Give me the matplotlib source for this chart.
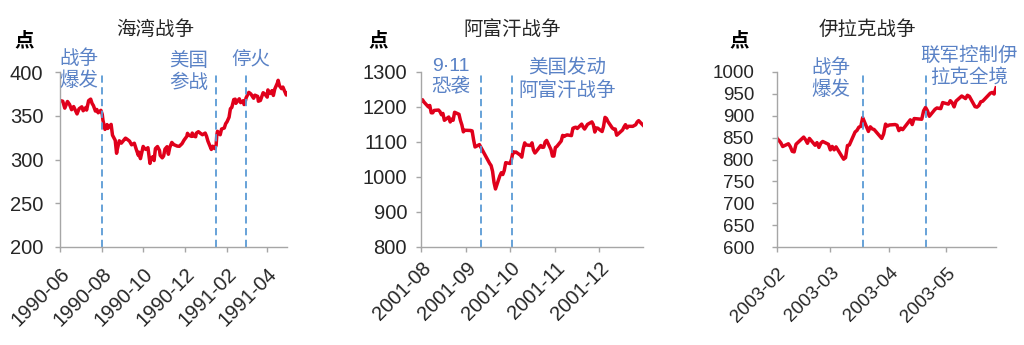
import matplotlib
matplotlib.use("Agg")
import matplotlib.pyplot as plt
import matplotlib.dates as mdates
import pandas as pd

plt.rcParams['font.family'] = ['Liberation Sans', 'Noto Sans CJK SC', 'DejaVu Sans']

# 海湾战争 (1990-06 ~ 1991-04)
gulf_dates = [
    "1990-06-01", "1990-06-05", "1990-06-08", "1990-06-12", "1990-06-15", "1990-06-18",
    "1990-06-21", "1990-06-26", "1990-06-29", "1990-07-03", "1990-07-05", "1990-07-09",
    "1990-07-10", "1990-07-13", "1990-07-16", "1990-07-18", "1990-07-20", "1990-07-23",
    "1990-07-25", "1990-07-27", "1990-07-31", "1990-08-02", "1990-08-03", "1990-08-06",
    "1990-08-09", "1990-08-10", "1990-08-15", "1990-08-17", "1990-08-21", "1990-08-23",
    "1990-08-24", "1990-08-27", "1990-08-30", "1990-09-05", "1990-09-07", "1990-09-11",
    "1990-09-14", "1990-09-18", "1990-09-21", "1990-09-24", "1990-09-25", "1990-09-27",
    "1990-10-01", "1990-10-03", "1990-10-05", "1990-10-08", "1990-10-11", "1990-10-12",
    "1990-10-15", "1990-10-17", "1990-10-19", "1990-10-22", "1990-10-25", "1990-10-26",
    "1990-10-29", "1990-10-31", "1990-11-02", "1990-11-05", "1990-11-07", "1990-11-09",
    "1990-11-12", "1990-11-15", "1990-11-20", "1990-11-23", "1990-11-27", "1990-11-30",
    "1990-12-04", "1990-12-05", "1990-12-07", "1990-12-11", "1990-12-12", "1990-12-14",
    "1990-12-17", "1990-12-18", "1990-12-21", "1990-12-24", "1990-12-27", "1990-12-31",
    "1991-01-02", "1991-01-04", "1991-01-07", "1991-01-09", "1991-01-11", "1991-01-14",
    "1991-01-16", "1991-01-17", "1991-01-18", "1991-01-22", "1991-01-24", "1991-01-28",
    "1991-01-30", "1991-02-01", "1991-02-04", "1991-02-06", "1991-02-08", "1991-02-11",
    "1991-02-12", "1991-02-13", "1991-02-14", "1991-02-19", "1991-02-21", "1991-02-25",
    "1991-02-26", "1991-02-28", "1991-03-01", "1991-03-05", "1991-03-08", "1991-03-12",
    "1991-03-14", "1991-03-18", "1991-03-19", "1991-03-22", "1991-03-26", "1991-03-28",
    "1991-04-01", "1991-04-02", "1991-04-05", "1991-04-08", "1991-04-10", "1991-04-12",
    "1991-04-16", "1991-04-17", "1991-04-19", "1991-04-22", "1991-04-24", "1991-04-26",
    "1991-04-29", "1991-04-30",
]
gulf_values = [
    367.4, 366.6, 358.7, 366.3, 362.9, 356.9,
    360.5, 352.1, 358.0, 360.2, 355.7, 359.5,
    356.5, 367.3, 369.0, 364.2, 361.6, 355.3,
    357.2, 353.4, 356.2, 351.5, 344.9, 334.4,
    339.9, 335.5, 340.1, 327.8, 321.9, 307.1,
    311.5, 321.4, 318.7, 324.4, 323.4, 321.0,
    316.8, 318.6, 311.3, 304.6, 308.3, 301.0,
    314.9, 312.6, 311.5, 313.5, 295.5, 300.0,
    303.2, 298.8, 312.5, 314.8, 310.2, 304.7,
    301.9, 304.0, 311.9, 314.6, 306.0, 313.7,
    319.5, 317.0, 315.3, 315.1, 318.1, 322.2,
    326.4, 329.9, 327.8, 326.4, 330.2, 326.8,
    326.0, 330.1, 331.8, 329.9, 328.3, 330.2,
    326.5, 321.0, 315.4, 311.5, 315.2, 312.5,
    316.2, 328.0, 332.2, 328.3, 334.8, 336.0,
    340.9, 343.1, 348.3, 358.1, 359.4, 368.6,
    365.5, 369.0, 364.2, 369.4, 365.0, 367.3,
    362.8, 367.1, 370.5, 376.7, 374.9, 370.0,
    373.5, 372.1, 366.6, 367.5, 376.3, 375.2,
    371.3, 379.5, 375.4, 378.7, 373.2, 380.4,
    387.6, 390.5, 384.2, 381.0, 382.8, 379.0,
    373.7, 375.3,
]

# 阿富汗战争 (2001-08 ~ 2001-12)
afghan_dates = [
    "2001-08-01", "2001-08-02", "2001-08-03", "2001-08-06", "2001-08-07", "2001-08-08",
    "2001-08-09", "2001-08-10", "2001-08-13", "2001-08-14", "2001-08-15", "2001-08-16",
    "2001-08-17", "2001-08-20", "2001-08-21", "2001-08-22", "2001-08-23", "2001-08-24",
    "2001-08-27", "2001-08-28", "2001-08-29", "2001-08-30", "2001-08-31", "2001-09-04",
    "2001-09-05", "2001-09-06", "2001-09-07", "2001-09-10", "2001-09-17", "2001-09-18",
    "2001-09-19", "2001-09-20", "2001-09-21", "2001-09-24", "2001-09-25", "2001-09-26",
    "2001-09-27", "2001-09-28", "2001-10-01", "2001-10-02", "2001-10-03", "2001-10-04",
    "2001-10-05", "2001-10-08", "2001-10-09", "2001-10-10", "2001-10-11", "2001-10-12",
    "2001-10-15", "2001-10-16", "2001-10-17", "2001-10-18", "2001-10-19", "2001-10-22",
    "2001-10-23", "2001-10-24", "2001-10-25", "2001-10-26", "2001-10-29", "2001-10-30",
    "2001-10-31", "2001-11-01", "2001-11-02", "2001-11-05", "2001-11-06", "2001-11-07",
    "2001-11-08", "2001-11-09", "2001-11-12", "2001-11-13", "2001-11-14", "2001-11-15",
    "2001-11-16", "2001-11-19", "2001-11-20", "2001-11-21", "2001-11-23", "2001-11-26",
    "2001-11-27", "2001-11-28", "2001-11-29", "2001-11-30", "2001-12-03", "2001-12-04",
    "2001-12-05", "2001-12-06", "2001-12-07", "2001-12-10", "2001-12-11", "2001-12-12",
    "2001-12-13", "2001-12-14", "2001-12-17", "2001-12-18", "2001-12-19", "2001-12-20",
    "2001-12-21", "2001-12-24", "2001-12-26", "2001-12-27", "2001-12-28", "2001-12-31",
]
afghan_values = [
    1215.9, 1220.8, 1214.4, 1200.5, 1204.4, 1183.5,
    1183.4, 1190.2, 1191.3, 1186.7, 1178.0, 1181.7,
    1162.0, 1171.4, 1157.3, 1165.3, 1162.1, 1184.9,
    1179.2, 1161.5, 1148.6, 1129.0, 1133.6, 1132.9,
    1131.7, 1106.4, 1085.8, 1092.5, 1038.8, 1032.7,
    1016.1, 984.5, 965.8, 1003.5, 1012.3, 1007.0,
    1018.6, 1040.9, 1038.6, 1051.3, 1072.3, 1069.6,
    1071.4, 1062.4, 1056.8, 1081.0, 1097.4, 1091.7,
    1090.0, 1097.5, 1077.1, 1068.6, 1073.5, 1089.9,
    1084.8, 1085.2, 1100.1, 1104.6, 1078.3, 1059.8,
    1059.8, 1084.1, 1087.2, 1102.8, 1118.9, 1115.8,
    1118.5, 1120.3, 1118.3, 1139.1, 1141.2, 1142.2,
    1138.7, 1151.1, 1142.7, 1137.0, 1150.3, 1157.4,
    1149.5, 1128.5, 1140.2, 1139.5, 1129.9, 1144.8,
    1170.4, 1167.1, 1158.3, 1139.9, 1136.8, 1137.1,
    1119.4, 1123.1, 1134.4, 1142.9, 1149.6, 1139.9,
    1144.9, 1144.7, 1149.4, 1157.1, 1161.0, 1148.1,
]

# 伊拉克战争 (2003-02 ~ 2003-05)
iraq_dates = [
    "2003-01-31", "2003-02-01", "2003-02-02", "2003-02-03", "2003-02-04", "2003-02-07",
    "2003-02-08", "2003-02-09", "2003-02-10", "2003-02-11", "2003-02-15", "2003-02-16",
    "2003-02-17", "2003-02-18", "2003-02-21", "2003-02-22", "2003-02-23", "2003-02-24",
    "2003-02-25", "2003-02-28", "2003-03-01", "2003-03-02", "2003-03-03", "2003-03-04",
    "2003-03-07", "2003-03-08", "2003-03-09", "2003-03-10", "2003-03-11", "2003-03-14",
    "2003-03-15", "2003-03-16", "2003-03-17", "2003-03-18", "2003-03-21", "2003-03-22",
    "2003-03-23", "2003-03-24", "2003-03-25", "2003-03-28", "2003-03-29", "2003-03-30",
    "2003-03-31", "2003-04-01", "2003-04-04", "2003-04-05", "2003-04-06", "2003-04-07",
    "2003-04-08", "2003-04-11", "2003-04-12", "2003-04-13", "2003-04-14", "2003-04-18",
    "2003-04-19", "2003-04-20", "2003-04-21", "2003-04-22", "2003-04-25", "2003-04-26",
    "2003-04-27", "2003-04-28", "2003-04-29", "2003-05-02", "2003-05-03", "2003-05-04",
    "2003-05-05", "2003-05-06", "2003-05-09", "2003-05-10", "2003-05-11", "2003-05-12",
    "2003-05-13", "2003-05-16", "2003-05-17", "2003-05-18", "2003-05-19", "2003-05-20",
    "2003-05-24", "2003-05-25", "2003-05-26", "2003-05-27",
]
iraq_values = [
    860.3, 848.2, 843.6, 838.2, 829.7, 836.0,
    829.2, 818.7, 817.4, 834.9, 851.2, 845.1,
    837.1, 848.2, 832.6, 838.6, 827.6, 837.3,
    841.2, 834.8, 822.0, 829.9, 822.1, 828.9,
    807.5, 800.7, 804.2, 831.9, 833.3, 862.8,
    866.5, 874.0, 875.7, 895.8, 864.2, 874.7,
    870.0, 868.5, 863.5, 848.2, 858.5, 880.9,
    876.5, 878.9, 879.9, 878.3, 866.0, 871.6,
    868.3, 885.2, 890.8, 879.9, 893.6, 892.0,
    911.4, 919.0, 911.4, 898.8, 914.8, 917.8,
    916.9, 916.3, 930.1, 926.6, 934.4, 929.6,
    920.3, 933.4, 945.1, 942.3, 939.3, 946.7,
    944.3, 920.8, 919.7, 923.4, 931.9, 933.2,
    951.5, 953.2, 949.6, 963.6,
]

RED = "#E0001B"
BLUE_LINE = "#5B9BD5"
BLUE_TEXT = "#5A82C6"
GRAY = "#A6A6A6"
DARK = "#262626"
W, H = 1024, 345


def px(x, y):
    """ pixel position -> figure fraction """
    return x / W, 1 - y / H


fig = plt.figure(figsize=(W / 100, H / 100), dpi=100)

panels = [
    dict(title="海湾战争", dates=gulf_dates, values=gulf_values,
         left=60, right=287, ylim=(200, 400), yticks=[200, 250, 300, 350, 400],
         xlim=("1990-06-01", "1991-04-30"), bymonth=[2, 4, 6, 8, 10, 12],
         events=["1990-08-02", "1991-01-16", "1991-03-01"],
         title_x=155, unit_x=24, fs=14.5, ypad=8.5, xpad=9),
    dict(title="阿富汗战争", dates=afghan_dates, values=afghan_values,
         left=421, right=643, ylim=(800, 1300),
         yticks=[800, 900, 1000, 1100, 1200, 1300],
         xlim=("2001-08-01", "2001-12-31"), bymonth=range(1, 13),
         events=["2001-09-11", "2001-10-02"],
         title_x=512, unit_x=378, fs=14.5, ypad=6.5, xpad=5),
    dict(title="伊拉克战争", dates=iraq_dates, values=iraq_values,
         left=777, right=996, ylim=(600, 1000),
         yticks=[600, 650, 700, 750, 800, 850, 900, 950, 1000],
         xlim=("2003-02-01", "2003-05-27"), bymonth=range(1, 13),
         events=["2003-03-18", "2003-04-20"],
         title_x=867, unit_x=739, fs=13.5, ypad=13, xpad=9),
]

top, bottom = 72, 247
for p in panels:
    x0, y0 = px(p["left"], bottom)
    ax = fig.add_axes([x0, y0, (p["right"] - p["left"]) / W, (bottom - top) / H])
    ax.plot(pd.to_datetime(p["dates"]), p["values"], color=RED, lw=2.5,
            solid_joinstyle="round")
    for ev in p["events"]:
        ax.axvline(pd.Timestamp(ev), color=BLUE_LINE, lw=1.3, ls=(0, (4, 2.5)))
    ax.set_xlim(pd.Timestamp(p["xlim"][0]), pd.Timestamp(p["xlim"][1]))
    ax.set_ylim(*p["ylim"])
    ax.set_yticks(p["yticks"])
    ax.xaxis.set_major_locator(mdates.MonthLocator(bymonth=p["bymonth"]))
    ax.xaxis.set_major_formatter(mdates.DateFormatter("%Y-%m"))
    for s in ["top", "right"]:
        ax.spines[s].set_visible(False)
    for s in ["left", "bottom"]:
        ax.spines[s].set_color(GRAY)
        ax.spines[s].set_linewidth(1)
    ax.tick_params(colors=GRAY, labelcolor=DARK, labelsize=p["fs"], length=3.5, width=1)
    ax.tick_params(axis="y", pad=p["ypad"])
    ax.tick_params(axis="x", pad=p["xpad"])
    for lbl in ax.get_xticklabels():
        lbl.set_rotation(45)
        lbl.set_ha("right")
        lbl.set_va("top")
        lbl.set_rotation_mode("anchor")
    fig.text(*px(p["title_x"], 30), p["title"], ha="center", va="center",
             fontsize=14, color=DARK)
    fig.text(*px(p["unit_x"], 41), "点", ha="center", va="center",
             fontsize=14, color="black", fontweight="bold")

# 事件标注
notes = [
    (79, 70, "战争\n爆发"),
    (189, 72, "美国\n参战"),
    (251, 60, "停火"),
    (451, 77, "9·11\n恐袭"),
    (567, 79, "美国发动\n阿富汗战争"),
    (831, 79, "战争\n爆发"),
    (969, 67, "联军控制伊\n拉克全境"),
]
for x, y, txt in notes:
    fig.text(*px(x, y), txt, ha="center", va="center", fontsize=14,
             color=BLUE_TEXT, linespacing=1.25)

fig.savefig("out.png", dpi=100, facecolor="white")
